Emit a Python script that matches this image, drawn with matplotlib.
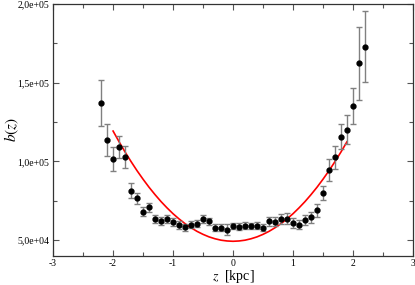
import matplotlib
matplotlib.use("Agg")
import matplotlib.pyplot as plt
from matplotlib.ticker import MultipleLocator, FuncFormatter

plt.rcParams['font.family'] = ['Liberation Serif', 'DejaVu Serif']
plt.rcParams['mathtext.fontset'] = 'stix'

# measured b(z) with errors
z_data = [-2.2, -2.1, -2.0, -1.9, -1.8, -1.7, -1.6, -1.5, -1.4, -1.3, -1.2,
          -1.1, -1.0, -0.9, -0.8, -0.7, -0.6, -0.5, -0.4, -0.3, -0.2, -0.1,
          0.0, 0.1, 0.2, 0.3, 0.4, 0.5, 0.6, 0.7, 0.8, 0.9, 1.0, 1.1, 1.2,
          1.3, 1.4, 1.5, 1.6, 1.7, 1.8, 1.9, 2.0, 2.1, 2.2]
b_data = [137100, 113800, 101600, 109200, 102900, 81500, 76600, 68100, 70900,
          63700, 62400, 63700, 61400, 59700, 58200, 59900, 60500, 63500, 62000,
          57800, 58000, 56500, 58900, 58600, 59300, 58900, 59300, 58000, 62000,
          61800, 63500, 63600, 61000, 59800, 62700, 64500, 68900, 80200, 94600,
          102700, 115600, 120200, 135400, 162300, 172900]
b_err = [14500, 10300, 7800, 7000, 6900, 4700, 3500, 3000, 3000, 2500, 2500,
         2500, 2500, 2300, 2300, 2300, 2300, 2300, 2200, 2200, 2000, 3500,
         2000, 2000, 2000, 2000, 2000, 2000, 2800, 2800, 3200, 3500, 3000,
         2800, 3000, 3500, 4100, 4400, 6700, 7300, 8000, 9000, 11500, 23400,
         22400]

# red model curve
z_fit = [-2.0, -1.9, -1.8, -1.7, -1.6, -1.5, -1.4, -1.3, -1.2, -1.1, -1.0,
         -0.9, -0.8, -0.7, -0.6, -0.5, -0.4, -0.3, -0.2, -0.1, 0.0, 0.1, 0.2,
         0.3, 0.4, 0.5, 0.6, 0.7, 0.8, 0.9, 1.0, 1.1, 1.2, 1.3, 1.4, 1.5, 1.6,
         1.7, 1.8, 1.9]
b_fit = [119300, 112500, 106000, 99900, 94100, 88700, 83600, 78900, 74500,
         70500, 66800, 63500, 60500, 57900, 55600, 53700, 52100, 50900, 50000,
         49500, 49300, 49500, 50000, 50900, 52100, 53700, 55600, 57900, 60500,
         63500, 66800, 70500, 74500, 78900, 83600, 88700, 94100, 99900, 106000,
         112500]

fig = plt.figure(figsize=(4.15, 2.85), dpi=100)
ax = fig.add_axes([0.128, 0.102, 0.867, 0.884])

ax.plot(z_fit, b_fit, color='red', lw=1.2, zorder=2)
ax.errorbar(z_data, b_data, yerr=b_err, fmt='o', color='black', ms=3.5,
            ecolor='#808080', elinewidth=1.0, capsize=2.5, capthick=1.0,
            zorder=3)

ax.set_xlim(-3, 3)
ax.set_ylim(40000, 200000)
ax.xaxis.set_major_locator(MultipleLocator(1))
ax.xaxis.set_minor_locator(MultipleLocator(0.5))
ax.yaxis.set_major_locator(MultipleLocator(50000))
ax.yaxis.set_minor_locator(MultipleLocator(25000))
ax.yaxis.set_major_formatter(FuncFormatter(
    lambda v, p: ('%.1e' % v).replace('.', ',')))
ax.xaxis.set_major_formatter(FuncFormatter(lambda v, p: '%d' % v))

ax.tick_params(which='both', direction='in', top=True, right=True,
               colors='#555555', labelcolor='black', labelsize=7)
ax.tick_params(which='major', length=4, width=0.8, pad=3)
ax.tick_params(axis='x', pad=2.5)
ax.tick_params(which='minor', length=3, width=0.8)
for s in ax.spines.values():
    s.set_color('#333333')
    s.set_linewidth(0.9)

ax.set_xlabel(r'$z$  [kpc]', fontsize=10, va='center')
ax.set_ylabel(r'$b(z)$', fontsize=11, va='center')
ax.xaxis.set_label_coords(0.5, -0.08)
ax.yaxis.set_label_coords(-0.114, 0.5)

fig.savefig('out.png', dpi=100)
